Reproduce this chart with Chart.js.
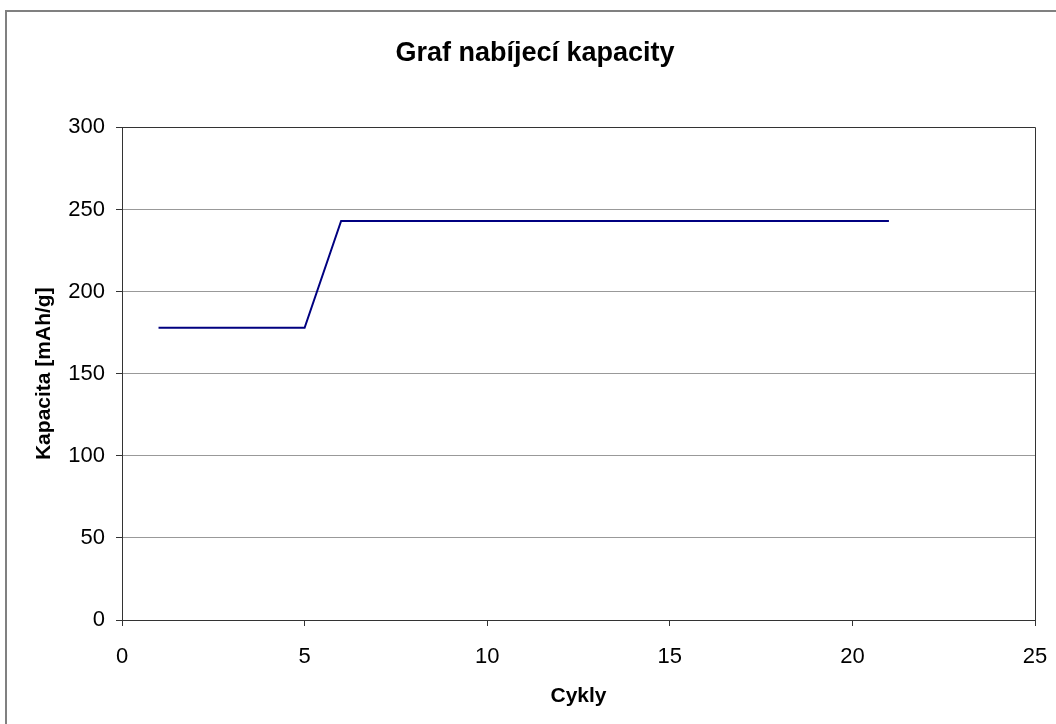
<!DOCTYPE html>
<html>
<head>
<meta charset="utf-8">
<title>Graf nabíjecí kapacity</title>
<script src="https://cdn.jsdelivr.net/npm/chart.js@4.4.1/dist/chart.umd.min.js"></script>
<style>
    html, body {
        margin: 0;
        padding: 0;
        overflow: hidden;
        background: #fff;
    }
    #ramecek {
        position: absolute;
        left: 5px;
        top: 10px;
        width: 1200px;
        height: 900px;
        border-left: 2px solid #808080;
        border-top: 2px solid #808080;
    }
    #grafJedna {
        position: absolute;
        left: 0;
        top: 0;
    }
</style>
</head>
<body>
<div id="ramecek"></div>
<canvas id="grafJedna" width="1070" height="724"></canvas>
<script>
// hodnoty
const cykly = [1, 2, 3, 4, 5, 6, 7, 8, 9, 10, 11, 12, 13, 14, 15, 16, 17, 18, 19, 20, 21];
const kapacita = [178, 178, 178, 178, 178, 243, 243, 243, 243, 243, 243, 243, 243, 243, 243, 243, 243, 243, 243, 243, 243];
const xTicks = [0, 5, 10, 15, 20, 25];
const yTicks = [0, 50, 100, 150, 200, 250, 300];

const pismo = "'Liberation Sans', Arial, sans-serif";

// ramecek kolem plochy grafu (horni a prava strana)
const ramecekPlochy = {
    id: "ramecekPlochy",
    afterDraw(chart) {
        const { ctx, chartArea } = chart;
        ctx.save();
        ctx.strokeStyle = "#333";
        ctx.lineWidth = 1;
        ctx.beginPath();
        ctx.moveTo(Math.round(chartArea.left) + 0.5, Math.round(chartArea.top) + 0.5);
        ctx.lineTo(Math.round(chartArea.right) + 0.5, Math.round(chartArea.top) + 0.5);
        ctx.lineTo(Math.round(chartArea.right) + 0.5, Math.round(chartArea.bottom) + 0.5);
        ctx.stroke();
        ctx.restore();
    }
};

function newChart(ctx) {
    const body = cykly.map((c, i) => ({ x: c, y: kapacita[i] }));

    return new Chart(ctx, {
        type: "line",
        data: {
            datasets: [
                {
                    label: "Kapacita",
                    data: body,
                    borderColor: "#000080",
                    borderWidth: 2,
                    pointRadius: 0,
                    tension: 0
                }
            ]
        },
        options: {
            responsive: false,
            animation: false,
            layout: { padding: 0 },
            plugins: {
                legend: { display: false },
                tooltip: { enabled: false },
                title: {
                    display: true,
                    text: "Graf nabíjecí kapacity",
                    color: "#000",
                    font: { family: pismo, size: 27, weight: "bold" },
                    padding: { top: 37, bottom: 58 }
                }
            },
            scales: {
                x: {
                    type: "linear",
                    min: 0,
                    max: 25,
                    afterBuildTicks: (scale) => {
                        scale.ticks = xTicks.map(v => ({ value: v }));
                    },
                    afterFit: (scale) => {
                        scale.height = 104;
                        scale.paddingRight = 35;
                    },
                    border: { color: "#333", width: 1 },
                    grid: {
                        drawOnChartArea: false,
                        drawTicks: true,
                        tickLength: 6,
                        tickColor: "#333"
                    },
                    ticks: {
                        color: "#000",
                        padding: 18,
                        maxRotation: 0,
                        font: { family: pismo, size: 22 }
                    },
                    title: {
                        display: true,
                        text: "Cykly",
                        color: "#000",
                        font: { family: pismo, size: 21, weight: "bold" },
                        padding: { top: 0, bottom: 15 }
                    }
                },
                y: {
                    min: 0,
                    max: 300,
                    afterBuildTicks: (scale) => {
                        scale.ticks = yTicks.map(v => ({ value: v }));
                    },
                    afterFit: (scale) => {
                        scale.width = 122;
                    },
                    border: { color: "#333", width: 1 },
                    grid: {
                        color: (c) => (c.tick && (c.tick.value === 0 || c.tick.value === 300)) ? "rgba(0,0,0,0)" : "#999",
                        lineWidth: 1,
                        drawTicks: true,
                        tickLength: 6,
                        tickColor: "#333"
                    },
                    ticks: {
                        color: "#000",
                        padding: 11,
                        font: { family: pismo, size: 22 }
                    },
                    title: {
                        display: true,
                        text: "Kapacita [mAh/g]",
                        color: "#000",
                        font: { family: pismo, size: 21, weight: "bold" },
                        padding: { top: 32, bottom: 0 }
                    }
                }
            }
        },
        plugins: [ramecekPlochy]
    });
}

const ctx = document.getElementById("grafJedna");
newChart(ctx);
</script>
</body>
</html>
